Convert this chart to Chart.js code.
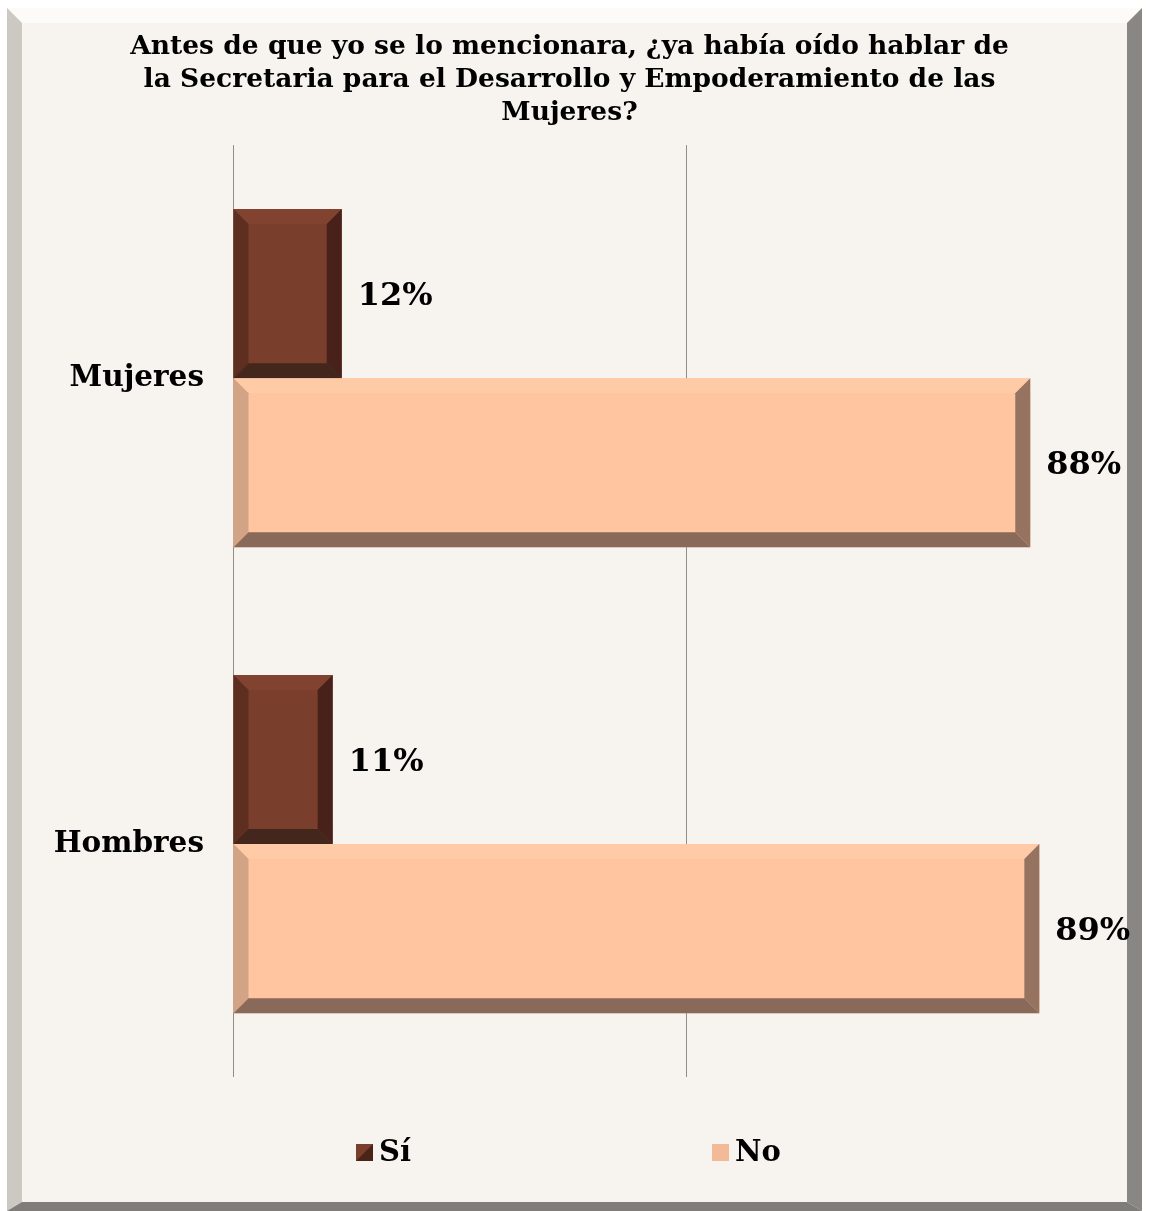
<!DOCTYPE html>
<html>
<head>
<meta charset="utf-8">
<script src="https://cdn.jsdelivr.net/npm/chart.js@4"></script>
<style>
  html, body { margin: 0; padding: 0; background: #fff; }
  #wrap { width: 1149px; height: 1211px; position: relative; }
</style>
</head>
<body>
<div id="wrap"><canvas id="myChart" width="1149" height="1211"></canvas></div>
<script>
const categories = ['Mujeres', 'Hombres'];
const seriesNames = ['Sí', 'No'];
const siValues = [12, 11];
const noValues = [88, 89];
const titleLines = [
    'Antes de que yo se lo mencionara, ¿ya había oído hablar de',
    'la Secretaria para el Desarrollo y Empoderamiento de las',
    'Mujeres?'
];

const FONT = '"DejaVu Serif", "Liberation Serif", serif';

// bevel colours per dataset: main, top, left, right, bottom
const bevels = [
    { main: '#7A3E2D', top: '#81432F', left: '#5E2E20', right: '#47211A', bottom: '#43271D' },
    { main: '#FFC4A0', top: '#FFCAA6', left: '#D3A385', right: '#957360', bottom: '#88695A' }
];

// frame with bevelled edges behind everything
const framePlugin = {
    id: 'frame',
    beforeDraw(chart) {
        const c = chart.ctx;
        const L = 7, T = 8, R = 1142, B = 1211, w = 15;
        c.save();
        c.fillStyle = '#FFFFFF';
        c.fillRect(0, 0, chart.width, chart.height);
        c.fillStyle = '#F7F3EE';
        c.fillRect(L, T, R - L, B - T);
        const poly = (pts, col) => {
            c.beginPath();
            c.moveTo(pts[0][0], pts[0][1]);
            pts.slice(1).forEach(p => c.lineTo(p[0], p[1]));
            c.closePath();
            c.fillStyle = col;
            c.fill();
        };
        poly([[L, T], [R, T], [R - w, T + w], [L + w, T + w]], '#FCFBF7');
        poly([[L, T], [L + w, T + w], [L + w, B - 9], [L, B]], '#CCC9C2');
        poly([[R, T], [R, B], [R - w, B - 9], [R - w, T + w]], '#898784');
        poly([[L, B], [L + w, B - 9], [R - w, B - 9], [R, B]], '#7F7D79');
        c.restore();
    }
};

// bevel edges on each bar, using the bar elements laid out by the scales
const bevelPlugin = {
    id: 'bevel',
    afterDatasetsDraw(chart) {
        const c = chart.ctx;
        chart.data.datasets.forEach((ds, di) => {
            const meta = chart.getDatasetMeta(di);
            const col = bevels[di];
            meta.data.forEach(el => {
                const p = el.getProps(['x', 'y', 'base', 'height'], true);
                const l = Math.min(p.base, p.x), r = Math.max(p.base, p.x);
                const t = p.y - p.height / 2, b = p.y + p.height / 2;
                const w = Math.min(15, (r - l) / 2, (b - t) / 2);
                const poly = (pts, fill) => {
                    c.beginPath();
                    c.moveTo(pts[0][0], pts[0][1]);
                    pts.slice(1).forEach(q => c.lineTo(q[0], q[1]));
                    c.closePath();
                    c.fillStyle = fill;
                    c.fill();
                };
                c.save();
                poly([[l, t], [r, t], [r - w, t + w], [l + w, t + w]], col.top);
                poly([[l, t], [l + w, t + w], [l + w, b - w], [l, b]], col.left);
                poly([[r, t], [r, b], [r - w, b - w], [r - w, t + w]], col.right);
                poly([[l, b], [l + w, b - w], [r - w, b - w], [r, b]], col.bottom);
                c.restore();
            });
        });
    }
};

// value labels right of each bar
const labelPlugin = {
    id: 'valueLabels',
    afterDatasetsDraw(chart) {
        const c = chart.ctx;
        c.save();
        c.font = 'bold 32px ' + FONT;
        c.fillStyle = '#000';
        c.textBaseline = 'middle';
        c.textAlign = 'left';
        chart.data.datasets.forEach((ds, di) => {
            chart.getDatasetMeta(di).data.forEach((el, i) => {
                c.fillText(ds.data[i] + '%', el.x + 16, el.y + 3);
            });
        });
        c.restore();
    }
};

// legend drawn by hand so the two items can sit far apart
const legendPlugin = {
    id: 'wideLegend',
    afterDraw(chart) {
        const c = chart.ctx;
        const xs = [356, 712];
        const y = 1152;
        c.save();
        c.font = 'bold 29px ' + FONT;
        c.textBaseline = 'middle';
        c.textAlign = 'left';
        chart.data.datasets.forEach((ds, di) => {
            const x = xs[di];
            if (di === 0) {
                c.fillStyle = '#7A3E2D';
                c.fillRect(x, y - 8, 17, 17);
                c.fillStyle = '#4A2419';
                c.beginPath();
                c.moveTo(x + 17, y - 8); c.lineTo(x + 17, y + 9); c.lineTo(x, y + 9);
                c.closePath(); c.fill();
            } else {
                c.fillStyle = '#F2BA98';
                c.fillRect(x, y - 8, 17, 17);
            }
            c.fillStyle = '#000';
            c.fillText(ds.label, x + 23, y + 1);
        });
        c.restore();
    }
};

document.addEventListener('DOMContentLoaded', function () {
    const ctx = document.getElementById('myChart');

    new Chart(ctx, {
        type: 'bar',
        data: {
            labels: categories,
            datasets: [{
                label: seriesNames[0],
                data: siValues,
                backgroundColor: bevels[0].main,
                borderWidth: 0
            }, {
                label: seriesNames[1],
                data: noValues,
                backgroundColor: bevels[1].main,
                borderWidth: 0
            }]
        },
        options: {
            indexAxis: 'y',
            responsive: false,
            animation: false,
            categoryPercentage: 0.726,
            barPercentage: 1,
            layout: {
                padding: { left: 0, right: 10, top: 0, bottom: 134 }
            },
            plugins: {
                legend: { display: false },
                tooltip: { enabled: false },
                title: {
                    display: true,
                    text: titleLines,
                    color: '#000',
                    font: { family: FONT, size: 26.5, weight: 'bold', lineHeight: 1.26 },
                    padding: { top: 30, bottom: 15 }
                }
            },
            scales: {
                x: {
                    min: 0,
                    max: 100,
                    ticks: { display: false, stepSize: 50 },
                    border: { display: false },
                    grid: {
                        drawTicks: false,
                        lineWidth: 1,
                        color: c => c.tick && c.tick.value === 100 ? 'rgba(0,0,0,0)' : '#8E8E8E'
                    },
                    afterFit: s => { s.height = 0; }
                },
                y: {
                    ticks: {
                        color: '#000',
                        font: { family: FONT, size: 29.5, weight: 'bold' },
                        padding: 29
                    },
                    border: { display: false },
                    grid: { display: false, drawTicks: false },
                    afterFit: s => { s.width = 233; }
                }
            }
        },
        plugins: [framePlugin, bevelPlugin, labelPlugin, legendPlugin]
    });
});
</script>
</body>
</html>
